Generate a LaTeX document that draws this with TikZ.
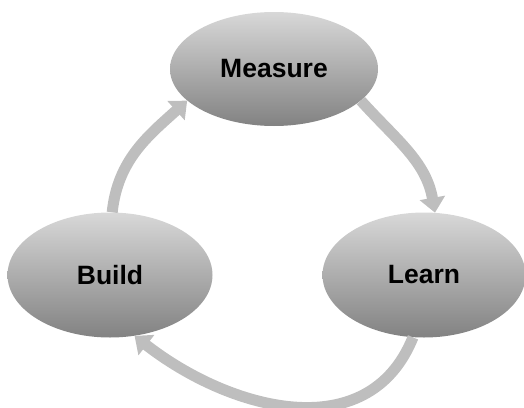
\documentclass[tikz,border=0pt]{standalone}
\usepackage{fontspec}
\setmainfont{Liberation Sans}
\usetikzlibrary{shapes.geometric,arrows.meta}
\definecolor{elltop}{RGB}{216,216,216}
\definecolor{ellbot}{RGB}{130,130,130}
\definecolor{arrowgray}{RGB}{190,190,190}
\begin{document}
\begin{tikzpicture}[x=1pt,y=-1pt,
  stage/.style={ellipse, inner sep=0pt, top color=elltop, bottom color=ellbot,
    draw=none, font=\fontsize{26.5}{30}\selectfont\bfseries, text=black},
  cyclearrow/.style={draw=arrowgray, line width=11pt,
    -{Triangle[width=25pt,length=15pt]}}]
\useasboundingbox (0,0) rectangle (524,407);
\node[stage, minimum width=208pt, minimum height=114pt] (m) at (274,69) {Measure};
\node[stage, minimum width=205pt, minimum height=125pt] (b) at (110,275) {Build};
\node[stage, minimum width=203pt, minimum height=125pt] (l) at (424,275) {Learn};
\draw[cyclearrow] (m.-20) to[out=-48,in=100] (l.80);
\draw[cyclearrow] (l.-100) to[out=-112,in=-38,looseness=1.1] (b.-68);
\draw[cyclearrow] (b.88) to[out=84,in=-138] (m.200);
\end{tikzpicture}
\end{document}
